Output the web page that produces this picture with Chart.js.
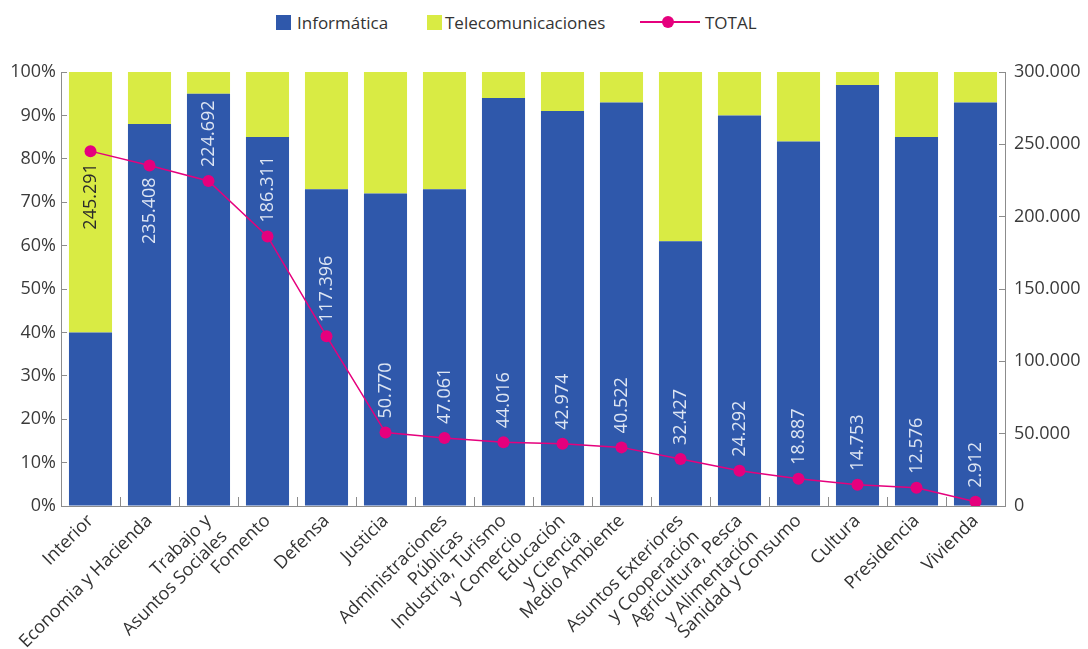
<!DOCTYPE html>
<html>
<head>
<meta charset="utf-8">
<script src="https://cdn.jsdelivr.net/npm/chart.js@4.4.1/dist/chart.umd.min.js"></script>
<style>
    html, body { margin: 0; padding: 0; background: #fff; }
    #wrap { position: relative; width: 1088px; height: 649px; font-family: 'Open Sans', sans-serif; color: #333; }
    #chart { position: absolute; left: 0; top: 0; }
    .lg { position: absolute; top: 22px; transform: translateY(-50%); font-size: 17px; line-height: 1; white-space: nowrap; }
    .sq { position: absolute; top: 15px; width: 15px; height: 15px; }
    .ln { position: absolute; top: 21px; height: 2px; background: #e5007d; }
    .dot { position: absolute; top: 16px; width: 12px; height: 12px; border-radius: 50%; background: #e5007d; }
</style>
</head>
<body>
<div id="wrap">
    <div class="sq" style="left:276px;background:#2f58ab"></div>
    <div class="lg" style="left:297px">Informática</div>
    <div class="sq" style="left:427px;background:#d9eb44"></div>
    <div class="lg" style="left:445px">Telecomunicaciones</div>
    <div class="ln" style="left:640px;width:60px"></div>
    <div class="dot" style="left:662px"></div>
    <div class="lg" style="left:705px">TOTAL</div>
    <canvas id="chart" width="1088" height="649"></canvas>
</div>
<script>
const ministerios = [
    ['Interior'],
    ['Economia y Hacienda'],
    ['Trabajo y', 'Asuntos Sociales'],
    ['Fomento'],
    ['Defensa'],
    ['Justicia'],
    ['Administraciones', 'Públicas'],
    ['Industria, Turismo', 'y Comercio'],
    ['Educación', 'y Ciencia'],
    ['Medio Ambiente'],
    ['Asuntos Exteriores', 'y Cooperación'],
    ['Agricultura, Pesca', 'y Alimentación'],
    ['Sanidad y Consumo'],
    ['Cultura'],
    ['Presidencia'],
    ['Vivienda']
];

// share of each ministry's spending, in %
const informatica = [40, 88, 95, 85, 73, 72, 73, 94, 91, 93, 61, 90, 84, 97, 85, 93];
const telecomunicaciones = [60, 12, 5, 15, 27, 28, 27, 6, 9, 7, 39, 10, 16, 3, 15, 7];

// total spending per ministry
const totales = [245291, 235408, 224692, 186311, 117396, 50770, 47061, 44016, 42974, 40522, 32427, 24292, 18887, 14753, 12576, 2912];

const BLUE = '#2f58ab';
const LIME = '#d9eb44';
const PINK = '#e5007d';
const AXIS = '#8c8c8c';
const FONT = "'Open Sans', sans-serif";

const miles = v => String(v).replace(/\B(?=(\d{3})+(?!\d))/g, '.');

// vertical value labels next to each TOTAL point
const totalLabels = {
    id: 'totalLabels',
    afterDatasetsDraw(chart) {
        const { ctx } = chart;
        const meta = chart.getDatasetMeta(2);
        ctx.save();
        ctx.font = '18px ' + FONT;
        ctx.textBaseline = 'middle';
        meta.data.forEach((pt, i) => {
            const below = i < 2;
            ctx.save();
            ctx.translate(pt.x, pt.y + (below ? 12 : -14));
            ctx.rotate(-Math.PI / 2);
            ctx.textAlign = below ? 'right' : 'left';
            ctx.fillStyle = informatica[i] < 50 ? '#2b2b2b' : '#dde5f3';
            ctx.fillText(miles(totales[i]), 0, 0);
            ctx.restore();
        });
        ctx.restore();
    }
};

Chart.defaults.font.family = FONT;
Chart.defaults.color = '#3a3a3a';

new Chart(document.getElementById('chart'), {
    data: {
        labels: ministerios,
        datasets: [
            {
                type: 'bar',
                label: 'Informática',
                data: informatica,
                backgroundColor: BLUE,
                yAxisID: 'y',
                stack: 'pct',
                barPercentage: 0.73,
                categoryPercentage: 1,
                order: 2
            },
            {
                type: 'bar',
                label: 'Telecomunicaciones',
                data: telecomunicaciones,
                backgroundColor: LIME,
                yAxisID: 'y',
                stack: 'pct',
                barPercentage: 0.73,
                categoryPercentage: 1,
                order: 2
            },
            {
                type: 'line',
                label: 'TOTAL',
                data: totales,
                yAxisID: 'y2',
                borderColor: PINK,
                borderWidth: 1.5,
                pointRadius: 6,
                pointBackgroundColor: PINK,
                pointBorderWidth: 0,
                order: 0
            }
        ]
    },
    options: {
        responsive: false,
        animation: false,
        layout: { padding: { top: 72, left: 0, right: 0, bottom: 0 } },
        plugins: {
            legend: { display: false },
            tooltip: { enabled: false }
        },
        scales: {
            x: {
                stacked: true,
                offset: true,
                border: { display: true, color: AXIS, width: 1 },
                grid: { display: true, offset: true, drawOnChartArea: false, tickLength: -9, color: AXIS },
                ticks: {
                    autoSkip: false,
                    minRotation: 45,
                    maxRotation: 45,
                    padding: 13,
                    font: { size: 18, lineHeight: 1.25 },
                    color: '#333'
                },
                afterFit: s => { s.height = 143; }
            },
            y: {
                position: 'left',
                stacked: true,
                min: 0,
                max: 100,
                border: { display: true, color: AXIS, width: 1 },
                grid: { display: true, drawOnChartArea: false, tickLength: -6, color: AXIS },
                ticks: {
                    stepSize: 10,
                    padding: 11,
                    font: { size: 18 },
                    callback: v => v + '%'
                },
                afterFit: s => { s.width = 61; }
            },
            y2: {
                position: 'right',
                min: 0,
                max: 300000,
                border: { display: true, color: AXIS, width: 1 },
                grid: { display: true, drawOnChartArea: false, tickLength: -6, color: AXIS },
                ticks: {
                    stepSize: 50000,
                    padding: 15,
                    font: { size: 18 },
                    callback: v => miles(v)
                },
                afterFit: s => { s.width = 83; }
            }
        }
    },
    plugins: [totalLabels]
});
</script>
</body>
</html>
